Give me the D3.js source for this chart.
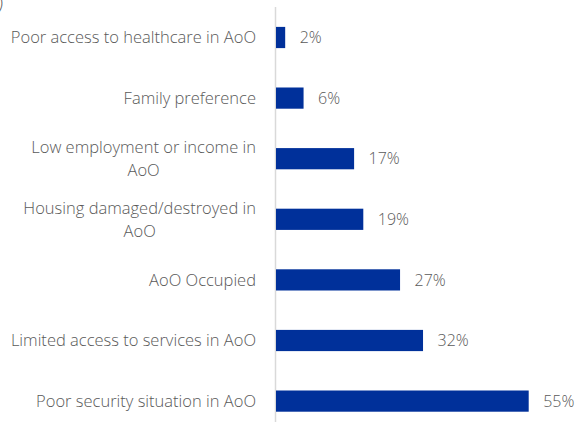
<!DOCTYPE html>
<html>
<head>
<meta charset="utf-8">
<script src="https://cdn.jsdelivr.net/npm/d3@7"></script>
<style>
  html, body { margin: 0; padding: 0; background: #fff; }
  svg { display: block; }
</style>
</head>
<body>
<svg id="chart" width="575" height="422"></svg>
<script>
const categories = [
  ["Poor access to healthcare in AoO"],
  ["Family preference"],
  ["Low employment or income in", "AoO"],
  ["Housing damaged/destroyed in", "AoO"],
  ["AoO Occupied"],
  ["Limited access to services in AoO"],
  ["Poor security situation in AoO"]
];
const values = [2, 6, 17, 19, 27, 32, 55];
const valueLabels = ["2%", "6%", "17%", "19%", "27%", "32%", "55%"];

const svg = d3.select("#chart");
const font = "'Open Sans', Lato, sans-serif";
const weight = 300;
const fsize = 16.5;
const vsize = 16;
const grey = "#595959";
const axisX = 276;

const x = d3.scaleLinear().domain([0, 55]).range([axisX, 528.7]);
const y = d3.scaleBand()
  .domain(d3.range(categories.length))
  .range([7.2, 7.2 + 7 * 60.6])
  .paddingInner(0.65)
  .paddingOuter(0.325);

// fragment of cut-off title (as in the reference)
svg.append("text")
  .attr("x", -2).attr("y", 11)
  .attr("font-family", font).attr("font-size", 19)
  .attr("font-weight", weight)
  .attr("font-style", "italic")
  .attr("fill", grey)
  .text(")");

// axis line
svg.append("line")
  .attr("x1", axisX - 0.5).attr("x2", axisX - 0.5)
  .attr("y1", 7).attr("y2", 422)
  .attr("stroke", "#d9d9d9").attr("stroke-width", 1.5);

// bars
svg.selectAll("rect.bar").data(values).join("rect")
  .attr("class", "bar")
  .attr("x", x(0))
  .attr("y", (d, i) => y(i))
  .attr("width", d => x(d) - x(0))
  .attr("height", y.bandwidth())
  .attr("fill", "#00309a");

// value labels
svg.selectAll("text.val").data(values).join("text")
  .attr("class", "val")
  .attr("x", d => x(d) + 14.5)
  .attr("y", (d, i) => y(i) + y.bandwidth() / 2)
  .attr("dy", "0.35em")
  .attr("font-family", font).attr("font-size", vsize)
  .attr("font-weight", weight)
  .attr("fill", grey)
  .text((d, i) => valueLabels[i]);

// category labels
const labelRight = 256;
const lineH = 23;
categories.forEach((lines, i) => {
  const cy = y(i) + y.bandwidth() / 2;
  const g = svg.append("g");
  const texts = lines.map((ln, j) => g.append("text")
    .attr("y", cy + (j - (lines.length - 1) / 2) * lineH)
    .attr("dy", "0.35em")
    .attr("font-family", font).attr("font-size", fsize)
    .attr("font-weight", weight)
    .attr("fill", grey)
    .text(ln));
  const widths = texts.map(t => t.node().getComputedTextLength());
  const maxW = d3.max(widths);
  const center = labelRight - maxW / 2;
  texts.forEach(t => t.attr("x", center).attr("text-anchor", "middle"));
});
</script>
</body>
</html>
